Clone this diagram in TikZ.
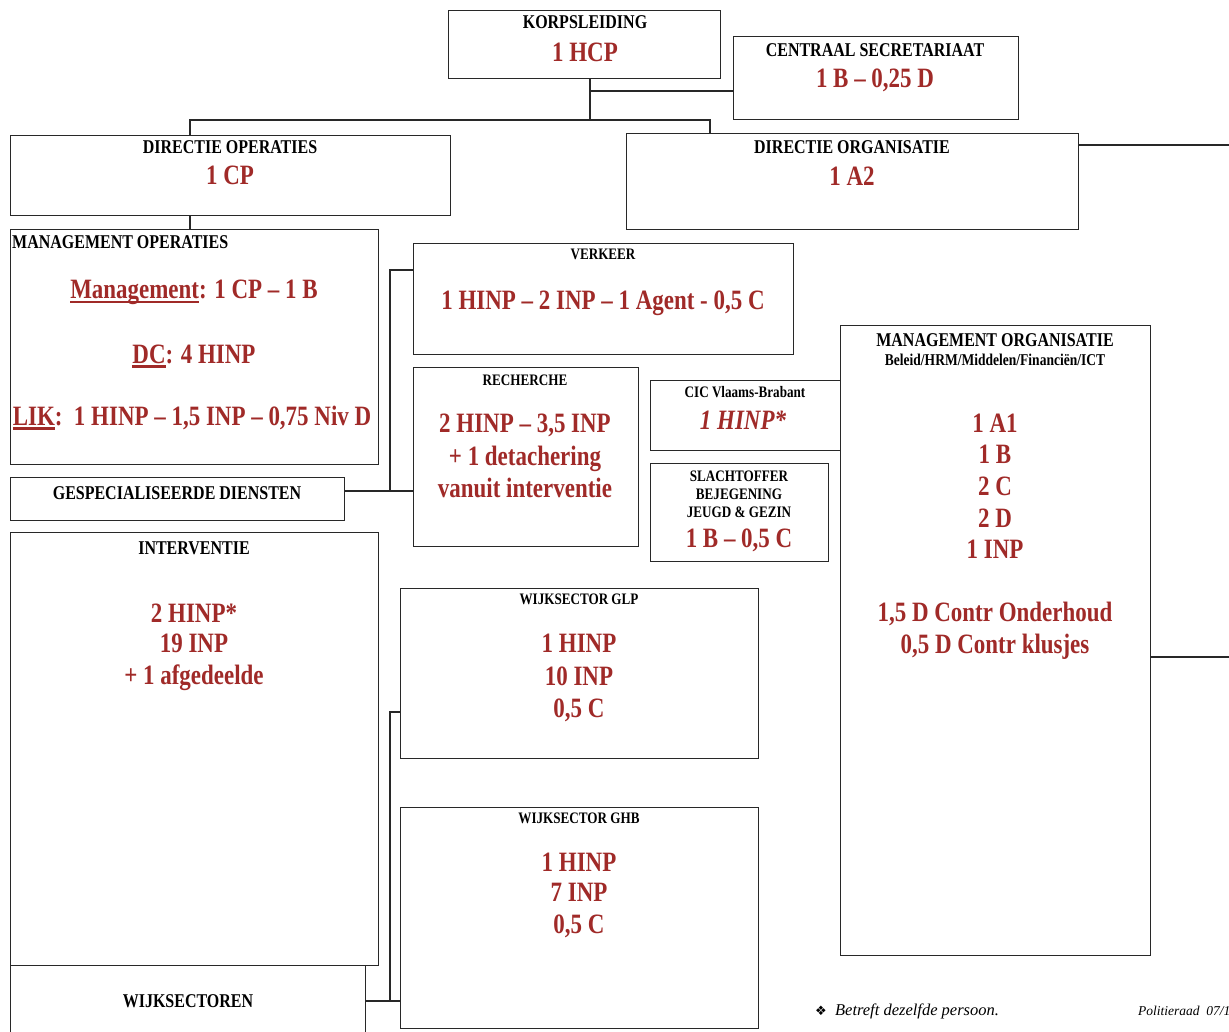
\documentclass[tikz,border=0pt]{standalone}
\usepackage{fontspec}
\setmainfont{Liberation Serif}[FakeStretch=0.82]
\newfontfamily\plainserif{Liberation Serif}
\newfontfamily\symf{DejaVu Sans}
\definecolor{redc}{RGB}{160,42,40}
\definecolor{linec}{RGB}{40,40,40}
\newcommand\thickul[1]{\setbox0\hbox{#1}\rlap{\rule[-4.5pt]{\wd0}{2.2pt}}\box0}
\begin{document}
\begin{tikzpicture}[x=1pt,y=-1pt,
  box/.style={draw=linec, line width=1.3pt, rectangle, inner sep=0, anchor=north west},
  wire/.style={draw=linec, line width=1.3pt},
  ttl/.style={font=\bfseries\fontsize{19.5}{22}\selectfont, inner sep=0, anchor=base},
  sml/.style={font=\bfseries\fontsize{16}{18}\selectfont, inner sep=0, anchor=base},
  rd/.style={text=redc, font=\bfseries\fontsize{28}{32}\selectfont, inner sep=0, anchor=base},
  note/.style={font=\plainserif\itshape\fontsize{16.5}{18}\selectfont, inner sep=0, anchor=base west}]
\useasboundingbox (0,0) rectangle (1229,1032);
\clip (0,0) rectangle (1229,1032);
\fill[white] (0,0) rectangle (1229,1032);

% boxes
\node[box, minimum width=272, minimum height=68] (korps) at (448,10) {};
\node[box, minimum width=285, minimum height=83] (cs) at (733,36) {};
\node[box, minimum width=440, minimum height=80] (dops) at (10,135) {};
\node[box, minimum width=452, minimum height=96] (dorg) at (626,133) {};
\node[box, minimum width=368, minimum height=235] (mops) at (10,229) {};
\node[box, minimum width=334, minimum height=43] (gesp) at (10,477) {};
\node[box, minimum width=380, minimum height=111] (verk) at (413,243) {};
\node[box, minimum width=225, minimum height=179] (rech) at (413,367) {};
\node[box, minimum width=190, minimum height=70] (cic) at (650,380) {};
\node[box, minimum width=178, minimum height=98] (slacht) at (650,463) {};
\node[box, minimum width=310, minimum height=630] (morg) at (840,325) {};
\node[box, minimum width=368, minimum height=433] (interv) at (10,532) {};
\node[box, minimum width=355, minimum height=100] (wijk) at (10,965) {};
\node[box, minimum width=358, minimum height=170] (glp) at (400,588) {};
\node[box, minimum width=358, minimum height=221] (ghb) at (400,807) {};

% junction coordinates
\coordinate (j1) at (590,91);
\coordinate (j2) at (590,120);
\coordinate (j3) at (190,120);
\coordinate (j4) at (710,120);
\coordinate (e1) at (1229,145);
\coordinate (e2) at (1229,657);
\coordinate (b1) at (390,491);
\coordinate (b2) at (390,270);
\coordinate (w1) at (390,1001);
\coordinate (w2) at (390,712);

% connectors
\draw[wire] (korps.south -| j1) -- (j2);
\draw[wire] (j1) -- (j1 -| cs.west);
\draw[wire] (j3 |- dops.north) -- (j3) -- (j4) -- (j4 |- dorg.north);
\draw[wire] (dops.south -| j3) -- (mops.north -| j3);
\draw[wire] (e1 -| dorg.east) -- (e1);
\draw[wire] (e2 -| morg.east) -- (e2);
\draw[wire] (b1 -| gesp.east) -- (b1 -| rech.west);
\draw[wire] (b1) -- (b2) -- (b2 -| verk.west);
\draw[wire] (w1 -| wijk.east) -- (w1 -| ghb.west);
\draw[wire] (w1) -- (w2) -- (w2 -| glp.west);

% texts
\node[ttl] (korpsT) at (585,29) {KORPSLEIDING};
\node[rd] (korpsR) at (585,62) {1 HCP};
\node[ttl] (csT) at (875,57) {CENTRAAL SECRETARIAAT};
\node[rd] (csR) at (875,88) {1 B – 0,25 D};
\node[ttl] (dopsT) at (230,154) {DIRECTIE OPERATIES};
\node[rd] (dopsR) at (230,185) {1 CP};
\node[ttl] (dorgT) at (852,154) {DIRECTIE ORGANISATIE};
\node[rd] (dorgR) at (852,186) {1 A2};

\node[ttl, anchor=base west] (mopsT) at (12,249) {MANAGEMENT OPERATIES};
\node[rd] (mopsR1) at (194,299) {\thickul{Management}: 1 CP – 1 B};
\node[rd] (mopsR2) at (194,363) {\thickul{DC}: 4 HINP};
\node[rd] (mopsR3) at (192,425) {\thickul{LIK}:\ \ 1 HINP – 1,5 INP – 0,75 Niv D};

\node[ttl] (gespT) at (177,499) {GESPECIALISEERDE DIENSTEN};

\node[sml] (verkT) at (603,260) {VERKEER};
\node[rd] (verkR) at (603,309) {1 HINP – 2 INP – 1 Agent - 0,5 C};

\node[sml] (rechT) at (525,385) {RECHERCHE};
\node[rd] (rechR1) at (525,432) {2 HINP – 3,5 INP};
\node[rd] (rechR2) at (525,465) {+ 1 detachering};
\node[rd] (rechR3) at (525,497) {vanuit interventie};

\node[sml] (cicT) at (745,397) {CIC Vlaams-Brabant};
\node[rd, font=\bfseries\itshape\fontsize{28}{32}\selectfont] (cicR) at (743,429) {1 HINP*};

\node[sml] (slT1) at (739,481) {SLACHTOFFER};
\node[sml] (slT2) at (739,499) {BEJEGENING};
\node[sml] (slT3) at (739,517) {JEUGD \& GEZIN};
\node[rd] (slR) at (739,547) {1 B – 0,5 C};

\node[ttl] (morgT) at (995,346) {MANAGEMENT ORGANISATIE};
\node[sml, font=\bfseries\fontsize{16.5}{18}\selectfont] (morgS) at (995,366) {Beleid/HRM/Middelen/Financiën/ICT};
\node[rd] (morgR1) at (995,432) {1 A1};
\node[rd] (morgR2) at (995,463) {1 B};
\node[rd] (morgR3) at (995,495) {2 C};
\node[rd] (morgR4) at (995,527) {2 D};
\node[rd] (morgR5) at (995,558) {1 INP};
\node[rd] (morgR6) at (995,621) {1,5 D Contr Onderhoud};
\node[rd] (morgR7) at (995,653) {0,5 D Contr klusjes};

\node[ttl] (intT) at (194,554) {INTERVENTIE};
\node[rd] (intR1) at (194,622) {2 HINP*};
\node[rd] (intR2) at (194,652) {19 INP};
\node[rd] (intR3) at (194,684) {+ 1 afgedeelde};

\node[ttl] (wijkT) at (188,1007) {WIJKSECTOREN};

\node[sml] (glpT) at (579,604) {WIJKSECTOR GLP};
\node[rd] (glpR1) at (579,652) {1 HINP};
\node[rd] (glpR2) at (579,685) {10 INP};
\node[rd] (glpR3) at (579,717) {0,5 C};

\node[sml] (ghbT) at (579,823) {WIJKSECTOR GHB};
\node[rd] (ghbR1) at (579,871) {1 HINP};
\node[rd] (ghbR2) at (579,901) {7 INP};
\node[rd] (ghbR3) at (579,933) {0,5 C};

\node[note] (fn) at (815,1015) {{\symf\fontsize{13}{15}\selectfont ❖}\ \ Betreft dezelfde persoon.};
\node[note, font=\plainserif\itshape\fontsize{13.5}{15}\selectfont] (pr) at (1138,1015) {Politieraad\ \ 07/1};
\end{tikzpicture}
\end{document}
